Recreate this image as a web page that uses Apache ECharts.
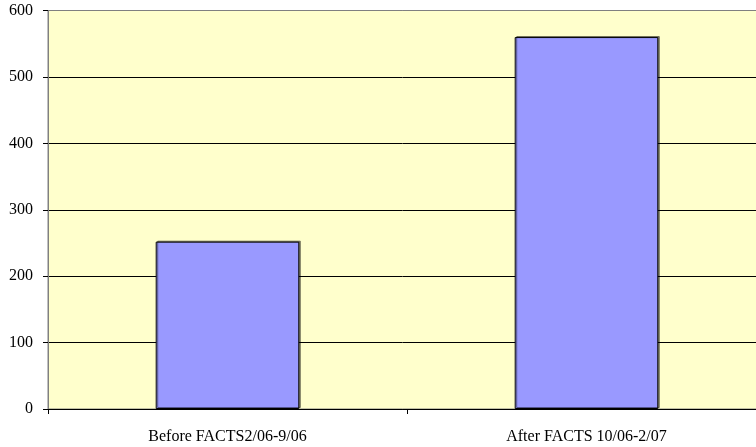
<!DOCTYPE html>
<html>
<head>
<meta charset="utf-8">
<script src="https://cdn.jsdelivr.net/npm/echarts@6/dist/echarts.min.js"></script>
<style>html,body{margin:0;padding:0;background:#fff;}#c{width:756px;height:447px;}</style>
</head>
<body>
<div id="c"></div>
<script>
var categories = ['Before FACTS2/06-9/06', 'After FACTS 10/06-2/07'];
var values = [252, 560];
var yTicks = [0, 100, 200, 300, 400, 500, 600];

var chart = echarts.init(document.getElementById('c'), null, {renderer: 'canvas'});
chart.setOption({
  animation: false,
  backgroundColor: '#ffffff',
  grid: {
    left: 48, top: 10.5, bottom: 38, width: 718,
    outerBoundsMode: 'none', containLabel: false,
    show: true, backgroundColor: '#FFFFCC', borderColor: '#808080', borderWidth: 1
  },
  xAxis: {
    type: 'category',
    data: categories,
    axisLine: {lineStyle: {color: '#000', width: 1}},
    axisTick: {show: true, length: 5, alignWithLabel: false, lineStyle: {color: '#000'}},
    axisLabel: {fontFamily: 'Liberation Serif', fontSize: 16, color: '#000', margin: 20}
  },
  yAxis: {
    type: 'value',
    min: yTicks[0], max: yTicks[yTicks.length - 1], interval: 100,
    axisLine: {show: true, lineStyle: {color: '#808080', width: 1}},
    axisTick: {show: true, length: 5, lineStyle: {color: '#000'}},
    axisLabel: {fontFamily: 'Liberation Serif', fontSize: 16, color: '#000', margin: 15},
    splitLine: {show: true, lineStyle: {color: ['#000', '#000', '#000', '#000', '#000', '#000', '#808080'], width: 1}}
  },
  series: [{
    type: 'bar',
    data: values,
    barWidth: '40%',
    itemStyle: {color: '#9999FF', borderColor: '#000', borderWidth: 1,
      shadowColor: 'rgba(0,0,0,0.45)', shadowOffsetX: 1.5, shadowOffsetY: -1, shadowBlur: 0}
  }]
});
</script>
</body>
</html>
